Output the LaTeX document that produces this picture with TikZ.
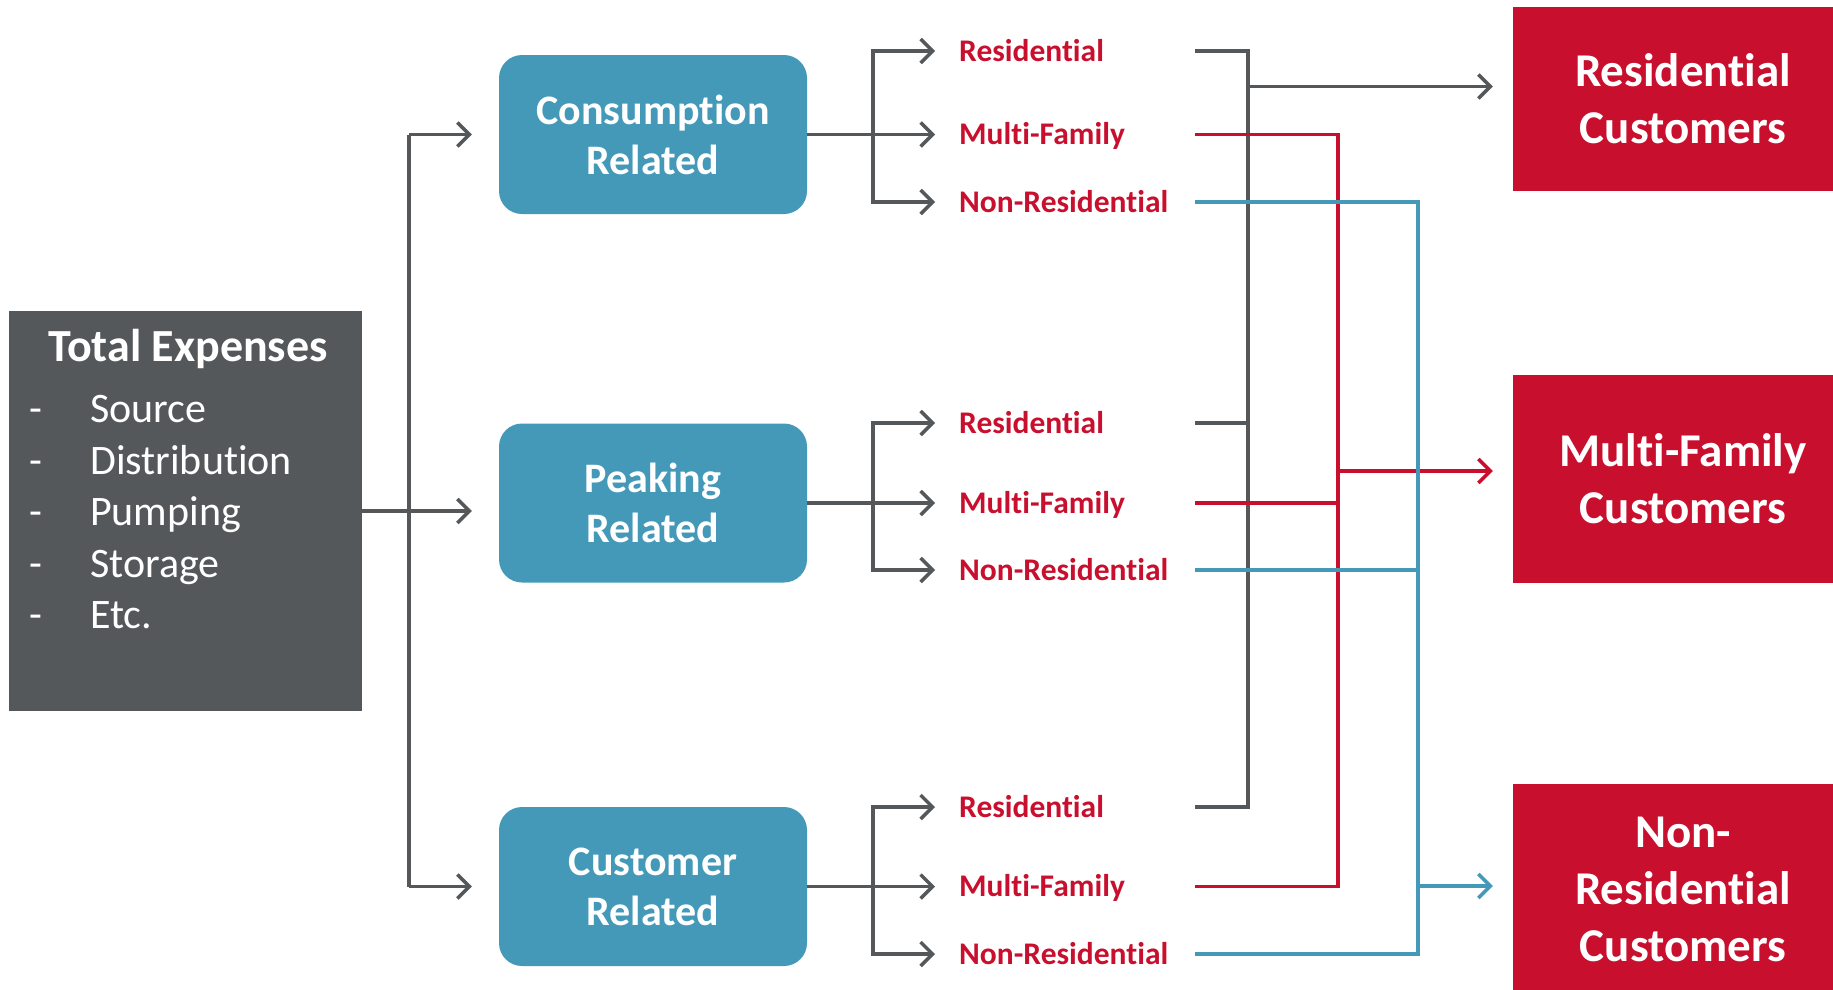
\documentclass[tikz,border=0pt]{standalone}
\usepackage{fontspec}
\setmainfont{Carlito}[Ligatures={TeX,NoCommon}]
\usepackage{xcolor}
\usetikzlibrary{positioning,arrows.meta}
\definecolor{slate}{HTML}{54585A}
\definecolor{boxblue}{HTML}{4499B9}
\definecolor{crimson}{HTML}{C8102E}
\tikzset{
  flow/.style={draw, line width=3.5pt},
  every picture/.style={>={Straight Barb[length=12pt,width=24pt]}},
  totalbox/.style={fill=slate, minimum width=353pt, minimum height=400pt, inner sep=0pt},
  costbox/.style={fill=boxblue, rounded corners=23pt, minimum width=308pt, minimum height=159pt,
    text=white, align=center, font=\fontsize{42}{50}\selectfont\bfseries},
  custbox/.style={fill=crimson, minimum width=340pt, text=white, align=center,
    font=\fontsize{47}{57}\selectfont\bfseries},
  classlbl/.style={anchor=west, inner sep=0pt, text width=236pt, align=left, text=crimson,
    text height=20pt, text depth=0pt, font=\fontsize{31.5}{37}\selectfont\bfseries},
  itemtext/.style={text=white, anchor=west, inner sep=0pt, text height=27pt, text depth=0pt,
    font=\fontsize{42}{50}\selectfont}
}
\begin{document}
\begin{tikzpicture}[x=1pt,y=-1pt]
  \useasboundingbox (0,0) rectangle (1833,989);
  % left box
  \node[totalbox] (total) at (185.5,511) {};
  \node[text=white, font=\fontsize{46}{55}\selectfont\bfseries] (ttl) at (188,349) {Total Expenses};
  \foreach \item [count=\i] in {Source,Distribution,Pumping,Storage,Etc.} {
    \node[itemtext] (dash\i) at (29,357.5+51.5*\i) {-};
    \node[itemtext] (item\i) at (90,357.5+51.5*\i) {\item};
  }
  % cost groups
  \node[costbox] (consum) at (653,134.5) {Consumption\\Related};
  \node[costbox] (peak) at (653,503) {Peaking\\Related};
  \node[costbox] (custom) at (653,886.5) {Customer\\Related};
  \coordinate (trunktop) at (409,134.5);
  \coordinate (trunkbot) at (409,886.5);
  \draw[flow,slate] (trunktop) -- (trunkbot);
  \draw[flow,slate,->,shorten >=27pt] (total.east) -- (total.east -| peak.west);
  \draw[flow,slate,->,shorten >=27pt] (trunktop) -- (consum.west);
  \draw[flow,slate,->,shorten >=27pt] (trunkbot) -- (custom.west);
  % customer classes
  \foreach \src/\yr/\ym/\yn in {consum/51/134.5/202, peak/423/503/570, custom/807/886.5/954} {
    \node[classlbl] (\src-res) at (959,\yr) {Residential};
    \node[classlbl] (\src-mf) at (959,\ym) {Multi-Family};
    \node[classlbl] (\src-nr) at (959,\yn) {Non-Residential};
    \coordinate (\src-fork) at (873,\ym);
    \draw[flow,slate] (\src.east) -- (\src-fork);
    \draw[flow,slate,->,shorten >=24pt] (\src-fork) |- (\src-res);
    \draw[flow,slate,->,shorten >=24pt] (\src-fork) -- (\src-mf);
    \draw[flow,slate,->,shorten >=24pt] (\src-fork) |- (\src-nr);
  }
  % customers
  \node[custbox, minimum height=184pt] (rescust) at (1683,99) {Residential\\Customers};
  \node[custbox, minimum height=208pt] (mfcust) at (1683,479) {Multi-Family\\Customers};
  \node[custbox, minimum height=210pt] (nrcust) at (1683,889) {Non-\\Residential\\Customers};
  \coordinate (resbus) at (1248,86.5);
  \coordinate (mfbus) at (1338,471);
  \coordinate (nrbus) at (1418,886);
  % collectors
  \draw[flow,slate] (consum-res.east) -| (custom-res.east -| resbus) -- (custom-res.east);
  \draw[flow,slate] (peak-res.east) -- (peak-res.east -| resbus);
  \draw[flow,slate,->,shorten >=20pt] (resbus) -- (resbus -| rescust.west);
  \draw[flow,crimson] (consum-mf.east) -| (custom-mf.east -| mfbus) -- (custom-mf.east);
  \draw[flow,crimson] (peak-mf.east) -- (peak-mf.east -| mfbus);
  \draw[flow,crimson,->,shorten >=20pt] (mfbus) -- (mfbus -| mfcust.west);
  \draw[flow,boxblue] (consum-nr.east) -| (custom-nr.east -| nrbus) -- (custom-nr.east);
  \draw[flow,boxblue] (peak-nr.east) -- (peak-nr.east -| nrbus);
  \draw[flow,boxblue,->,shorten >=20pt] (nrbus) -- (nrbus -| nrcust.west);
\end{tikzpicture}
\end{document}
